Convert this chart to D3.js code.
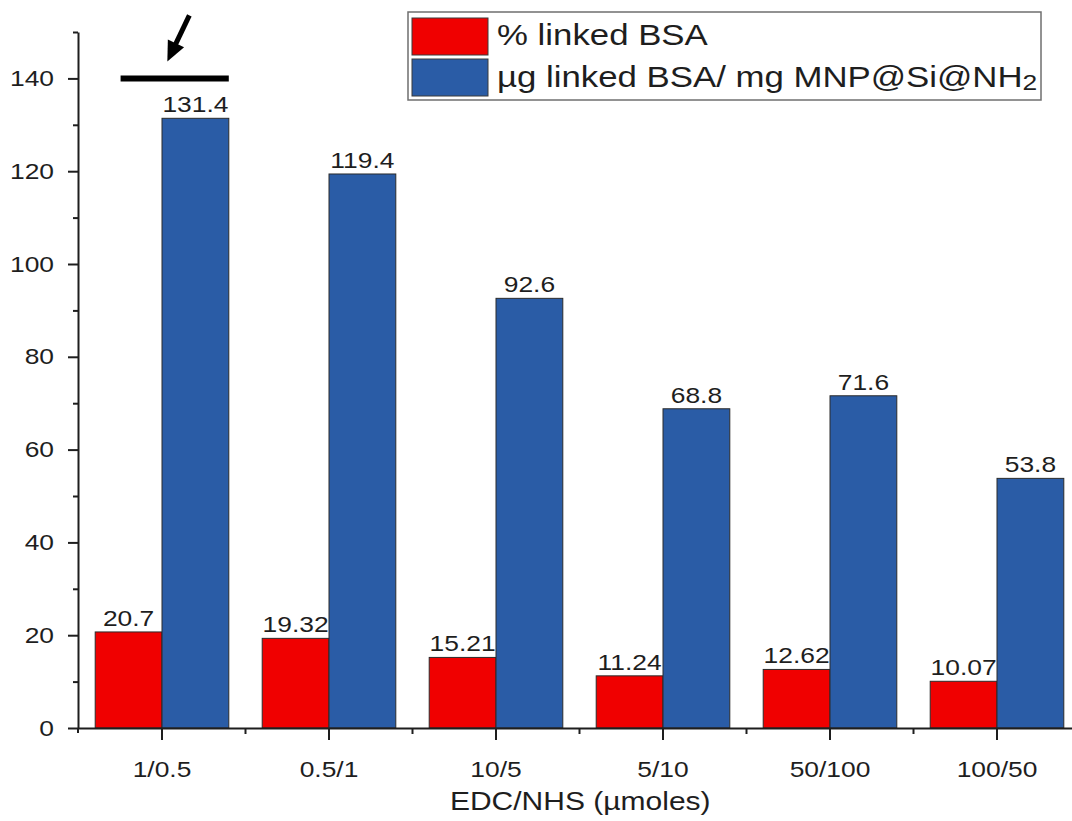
<!DOCTYPE html>
<html>
<head>
<meta charset="utf-8">
<script src="https://cdn.jsdelivr.net/npm/d3@7"></script>
<style>
  html, body { margin: 0; padding: 0; background: #fff; }
  svg { display: block; }
  text { font-family: "Liberation Sans", Arial, sans-serif; fill: #1e1e1e; }
</style>
</head>
<body>
<svg id="chart" width="1072" height="821"></svg>
<script>
// EDC/NHS ratio tested for BSA coupling
const categories = ["1/0.5", "0.5/1", "10/5", "5/10", "50/100", "100/50"];
// % of BSA linked to the particles
const pctLinked = [20.7, 19.32, 15.21, 11.24, 12.62, 10.07];
// µg BSA linked per mg of MNP@Si@NH2
const ugPerMg = [131.4, 119.4, 92.6, 68.8, 71.6, 53.8];
const seriesKeys = ["pct", "ug"];
const seriesColors = ["#f00000", "#2a5ca6"];
const yMajorTicks = [0, 20, 40, 60, 80, 100, 120, 140];
const yMinorTicks = [10, 30, 50, 70, 90, 110, 130, 150];
const yMax = 150;
const highlightLevel = 140;
const xTitle = "EDC/NHS (\u00b5moles)";
const legendLabels = ["% linked BSA", "\u00b5g linked BSA/ mg MNP@Si@NH"];
const legendSub = "2";

const svg = d3.select("#chart");
const SX = 1.2; // the text face is set a little wider than the stock glyphs

const x = d3.scaleBand().domain(categories).range([78.5, 1080.5])
  .paddingInner(0.2).paddingOuter(0.1);
const xs = d3.scaleBand().domain(seriesKeys).range([0, x.bandwidth()]);
const y = d3.scaleLinear().domain([0, yMax]).range([728, 32]);

function wideText(sel, xx, yy) {
  return sel.attr("transform", `translate(${xx},${yy}) scale(${SX},1)`);
}

const rows = categories.map((c, i) => ({ cat: c, pct: pctLinked[i], ug: ugPerMg[i] }));

// bars: red series first with its labels, then blue series on top
const plot = svg.append("g");
[0, 1].forEach(k => {
  const key = seriesKeys[k];
  const g = plot.append("g");
  g.selectAll("rect").data(rows).join("rect")
    .attr("x", d => x(d.cat) + xs(key))
    .attr("y", d => y(d[key]))
    .attr("width", xs.bandwidth())
    .attr("height", d => y(0) - y(d[key]))
    .attr("fill", seriesColors[k])
    .attr("stroke", "#2b2b2b")
    .attr("stroke-width", 1);
  g.selectAll("text").data(rows).join("text")
    .each(function(d) {
      wideText(d3.select(this), x(d.cat) + xs(key) + xs.bandwidth() / 2, y(d[key]) - 6);
    })
    .attr("text-anchor", "middle")
    .attr("font-size", 22)
    .text(d => String(d[key]));
});

// y axis
const yAxis = svg.append("g").attr("transform", "translate(78,0)");
yAxis.call(d3.axisLeft(y).tickValues(yMajorTicks).tickSize(10).tickPadding(10).tickSizeOuter(0));
yAxis.selectAll("text").attr("font-size", 22).attr("transform", `scale(${SX},1)`);
const yMinor = svg.append("g").attr("transform", "translate(78,0)");
yMinor.call(d3.axisLeft(y).tickValues(yMinorTicks).tickSize(5).tickFormat("").tickSizeOuter(0));
yMinor.select(".domain").remove();

// x axis
const xAxis = svg.append("g").attr("transform", `translate(0,${y(0)})`);
xAxis.call(d3.axisBottom(x).tickSize(12).tickPadding(21).tickSizeOuter(0));
xAxis.selectAll("text").attr("font-size", 22).attr("transform", `scale(${SX},1)`);
const bounds = categories.slice(1).map(c => x(c) - x.step() * x.paddingInner() / 2);
const xMinor = svg.append("g").attr("transform", `translate(0,${y(0)})`);
xMinor.selectAll("line").data(bounds).join("line")
  .attr("x1", d => d).attr("x2", d => d).attr("y1", 0).attr("y2", 6);

svg.selectAll(".domain, .tick line").attr("stroke", "#1e1e1e").attr("stroke-width", 2);
xMinor.selectAll("line").attr("stroke", "#1e1e1e").attr("stroke-width", 2);
// y axis line runs slightly past the baseline
svg.append("line").attr("x1", 78).attr("x2", 78).attr("y1", y(0)).attr("y2", y(0) + 5)
  .attr("stroke", "#1e1e1e").attr("stroke-width", 2);

// x axis title
wideText(svg.append("text"), (x.range()[0] + 1072) / 2 + 5, 810)
  .attr("text-anchor", "middle").attr("font-size", 25).text(xTitle);

// highlight mark over the first group: level bar with pointing arrow
const g0 = x(categories[0]);
const markY = y(highlightLevel);
svg.append("line")
  .attr("x1", g0 + 0.19 * x.bandwidth()).attr("x2", g0 + x.bandwidth())
  .attr("y1", markY).attr("y2", markY)
  .attr("stroke", "#000").attr("stroke-width", 6);
const tip = [g0 + 0.54 * x.bandwidth(), markY - 17];
const tail = [tip[0] + 22, tip[1] - 46];
const len = Math.hypot(tail[0] - tip[0], tail[1] - tip[1]);
const ux = (tip[0] - tail[0]) / len, uy = (tip[1] - tail[1]) / len;
const headLen = 20, headHalf = 9;
const base = [tip[0] - headLen * ux, tip[1] - headLen * uy];
svg.append("line")
  .attr("x1", tail[0]).attr("y1", tail[1])
  .attr("x2", base[0] + 3 * ux).attr("y2", base[1] + 3 * uy)
  .attr("stroke", "#000").attr("stroke-width", 5);
svg.append("path")
  .attr("d", d3.line()([
    tip,
    [base[0] - uy * headHalf, base[1] + ux * headHalf],
    [base[0] + uy * headHalf, base[1] - ux * headHalf]
  ]) + "Z")
  .attr("fill", "#000");

// legend
const legend = svg.append("g");
legend.append("rect").attr("x", 408).attr("y", 12).attr("width", 633).attr("height", 88)
  .attr("fill", "#fff").attr("stroke", "#6f6f6f").attr("stroke-width", 1.5);
legendLabels.forEach((lab, i) => {
  legend.append("rect")
    .attr("x", 412).attr("y", 18 + i * 41).attr("width", 76).attr("height", 37)
    .attr("fill", seriesColors[i]).attr("stroke", "#3a3a3a").attr("stroke-width", 1);
  const t = wideText(legend.append("text"), 497, 45 + i * 42).attr("font-size", 29);
  t.append("tspan").text(lab);
  if (i === 1) {
    t.append("tspan").attr("font-size", 22).attr("dy", 3).text(legendSub);
  }
});
</script>
</body>
</html>
